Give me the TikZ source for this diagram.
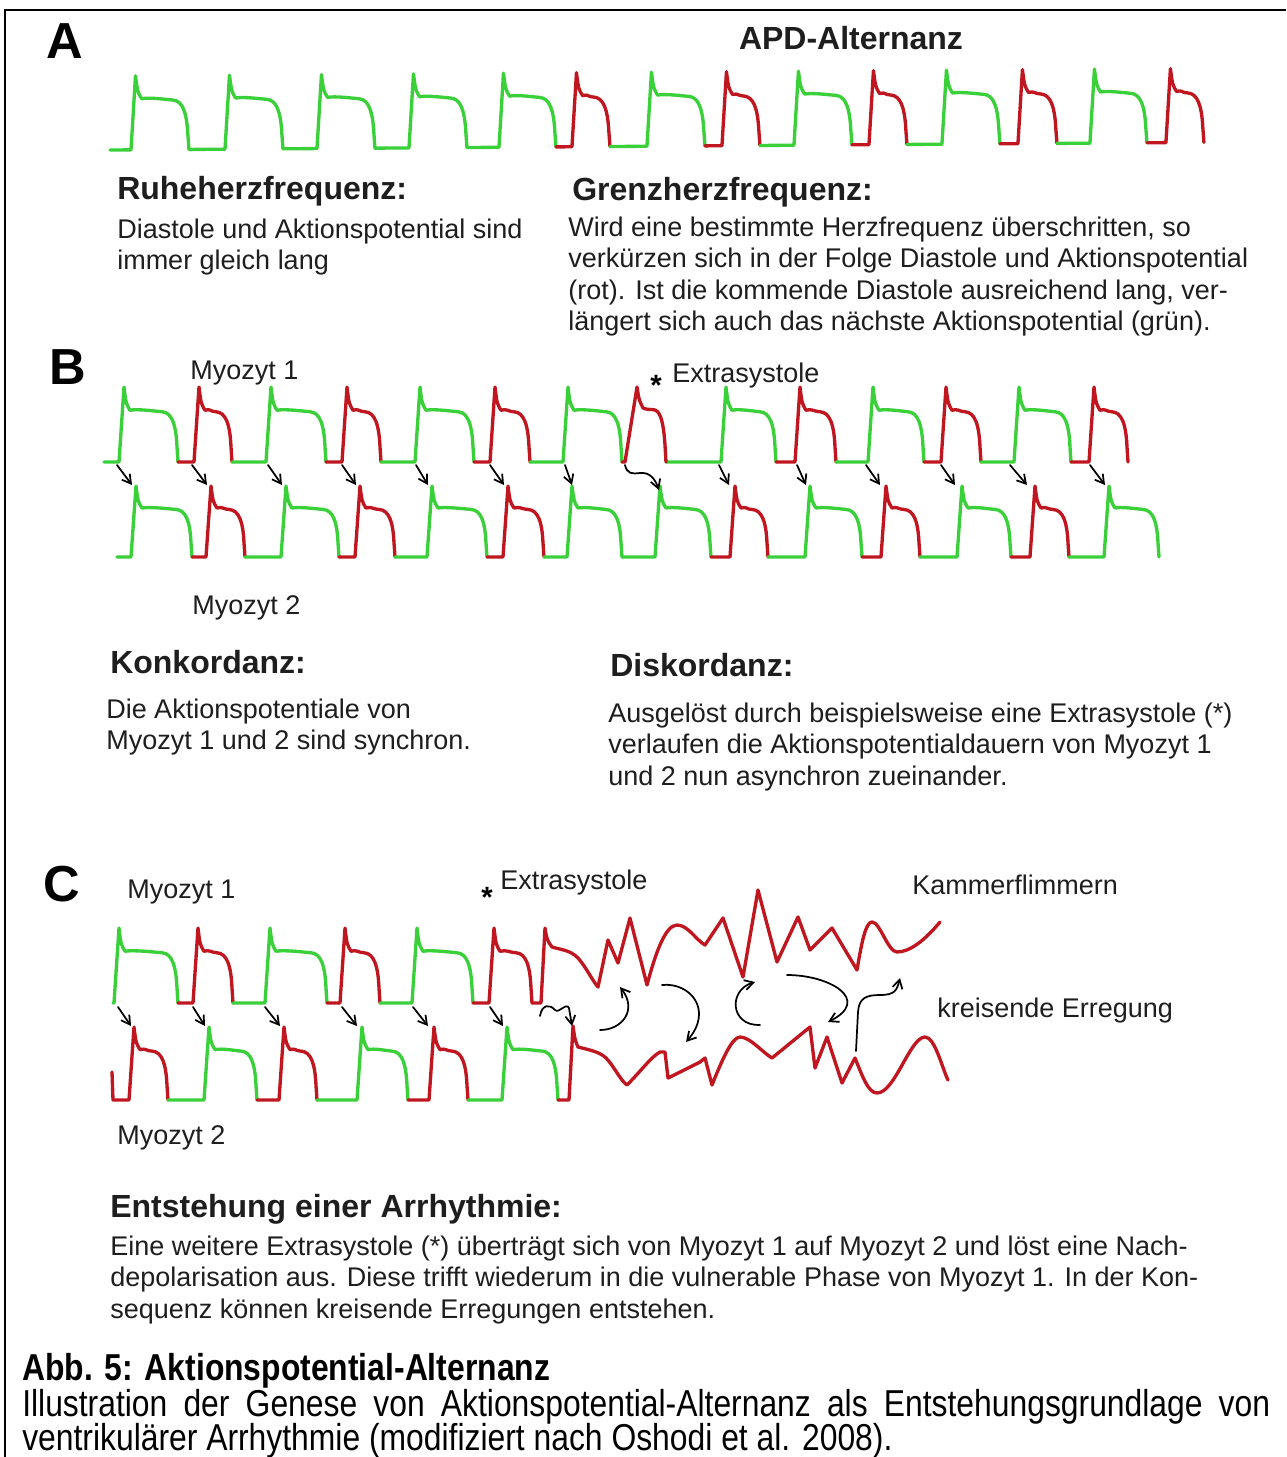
\documentclass[tikz,border=0pt]{standalone}
\usepackage{fontspec}
\setmainfont{Liberation Sans}
\newfontfamily\capfont[FakeStretch=0.85]{Liberation Sans}
\usetikzlibrary{arrows.meta}
\definecolor{apgreen}{RGB}{58,208,58}
\definecolor{apred}{RGB}{192,22,32}
\definecolor{txtgray}{RGB}{30,30,30}
% #1 style, #2 start of diastole, #3 upstroke, #4 end of AP, #5 baseline, #6 amplitude
\newcommand{\apseg}[6]{%
  \draw[#1] (#2,#5) -- (#3,#5) -- ({#3+5},{#5-#6})
   .. controls ({#3+7},{#5-0.78*#6}) .. ({#3+11},{#5-0.69*#6})
   .. controls ({#3+18},{#5-0.71*#6}) and ({#4-24},{#5-0.68*#6}) .. ({#4-16},{#5-0.67*#6})
   .. controls ({#4-6},{#5-0.66*#6}) and ({#4-2},{#5-0.5*#6}) .. ({#4-1},{#5-0.2*#6})
   -- (#4,#5);}
\begin{document}
\begin{tikzpicture}[x=0.75pt,y=-0.75pt,
  wave/.style={line width=2.5pt,line join=round,line cap=round},
  gr/.style={wave,draw=apgreen},
  rd/.style={wave,draw=apred},
  arr/.style={draw=black,line width=1.3pt,line cap=round,-{Straight Barb[length=6.5pt,width=7.5pt]}},
  hd/.style={anchor=base west,inner sep=0,text=txtgray,font=\fontsize{24}{28}\selectfont\bfseries},
  bd/.style={anchor=base west,inner sep=0,text=txtgray,font=\fontsize{20.25}{24}\selectfont},
  lab/.style={anchor=base,inner sep=0,font=\fontsize{38}{40}\selectfont\bfseries},
  starsym/.style={anchor=north,inner sep=0,font=\fontsize{22}{22}\selectfont\bfseries},
  captxt/.style={anchor=base west,inner sep=0,font=\capfont\fontsize{28.1}{30}\selectfont}]
\useasboundingbox (0,0) rectangle (1286,1457);
\fill[white] (0,0) rectangle (1286,1457);
% frame
\draw[line width=1.1pt] (5,1457) -- (5,10) -- (1286,10);

% ================= A =================
\node[lab] (labA) at (65,58) {A};
\node[anchor=base,inner sep=0,text=txtgray,font=\fontsize{24}{28}\selectfont\bfseries] (apd) at (851,49) {APD-Alternanz};
\begin{scope}[rotate around={0.4:(110,150)}]
\foreach \c/\s/\u/\e in {gr/110/131/189, gr/189/225/283, gr/283/317/375, gr/375/409/467,
  gr/467/499/556, rd/556/572/610, gr/610/647/705, rd/705/722/760, gr/760/794/852,
  rd/852/869/907, gr/907/942/1000, rd/1000/1018/1057, gr/1057/1090/1147, rd/1147/1166/1204}
  {\apseg{\c}{\s}{\u}{\e}{150}{74}}
\end{scope}
\node[hd] (ruhe) at (117,199) {Ruheherzfrequenz:};
\node[bd] (ruhe1) at (117,238) {Diastole und Aktionspotential sind};
\node[bd] (ruhe2) at (117,269) {immer gleich lang};
\node[hd] (grenz) at (572,200) {Grenzherzfrequenz:};
\node[bd] (grenz1) at (568,236) {Wird eine bestimmte Herzfrequenz überschritten, so};
\node[bd] (grenz2) at (568,267) {verkürzen sich in der Folge Diastole und Aktionspotential};
\node[bd] (grenz3) at (568,299) {(rot). Ist die kommende Diastole ausreichend lang, ver-};
\node[bd] (grenz4) at (568,330) {längert sich auch das nächste Aktionspotential (grün).};

% ================= B =================
\node[lab] (labB) at (68,384) {B};
\node[bd] (bm1) at (190,379) {Myozyt 1};
\node[starsym] (bstar) at (656,375) {*};
\node[bd] (bex) at (672,382) {Extrasystole};
% top row (Myozyt 1)
\foreach \c/\s/\u/\e in {gr/104/119/178, rd/178/194/232, gr/232/266/326, rd/326/342/381,
  gr/381/415/474, rd/474/490/530, gr/530/563/622, gr/666/721/776, rd/776/795/836,
  gr/836/868/924, rd/924/941/981, gr/981/1014/1071, rd/1071/1089/1128}
  {\apseg{\c}{\s}{\u}{\e}{462}{75}}
\draw[rd] (622,462) -- (625,462) -- (637,387) .. controls (639,400) .. (643,408)
  .. controls (647,410) and (651,409) .. (655,410) .. controls (662,412) and (664,430) .. (665,445) -- (666,462);
% bottom row (Myozyt 2)
\foreach \c/\s/\u/\e in {gr/117/131/192, rd/192/206/245, gr/245/281/339, rd/339/355/395,
  gr/395/427/487, rd/487/503/544, gr/544/567/622, gr/622/655/711, rd/711/730/768,
  gr/768/805/862, rd/862/881/920, gr/920/957/1011, rd/1011/1030/1069, gr/1069/1104/1159}
  {\apseg{\c}{\s}{\u}{\e}{557}{71}}
\foreach \i/\a/\b in {1/117/132, 2/192/207, 3/268/282, 4/342/356, 5/416/428, 6/490/504,
  7/565/572, 8/719/729, 9/797/806, 10/866/880, 11/941/955, 12/1010/1027, 13/1090/1105}
  {\coordinate (bs\i) at (\a,465); \coordinate (be\i) at (\b,485); \draw[arr] (bs\i) -- (be\i);}
\coordinate (bws) at (625,465);
\coordinate (bwe) at (659,490);
\draw[arr] (bws) .. controls (627,474) and (632,474) .. (640,473) .. controls (650,472) and (655,479) .. (bwe);
\node[bd] (bm2) at (192,614) {Myozyt 2};
\node[hd] (konk) at (110,673) {Konkordanz:};
\node[bd] (konk1) at (106,718) {Die Aktionspotentiale von};
\node[bd] (konk2) at (106,749) {Myozyt 1 und 2 sind synchron.};
\node[hd] (disk) at (610,676) {Diskordanz:};
\node[bd] (disk1) at (608,722) {Ausgelöst durch beispielsweise eine Extrasystole (*)};
\node[bd] (disk2) at (608,753) {verlaufen die Aktionspotentialdauern von Myozyt 1};
\node[bd] (disk3) at (608,785) {und 2 nun asynchron zueinander.};

% ================= C =================
\node[lab] (labC) at (62,901) {C};
\node[bd] (cm1) at (127,898) {Myozyt 1};
\node[starsym] (cstar) at (487,887) {*};
\node[bd] (cex) at (500,889) {Extrasystole};
\node[bd] (kammer) at (912,894) {Kammerflimmern};
\node[bd] (kreis) at (937,1017) {kreisende Erregung};
% top row
\foreach \c/\s/\u/\e in {gr/113/114/178, rd/178/193/233, gr/233/265/327, rd/327/340/380,
  gr/380/412/473, rd/473/489/532}
  {\apseg{\c}{\s}{\u}{\e}{1003}{75}}
\draw[rd] (532,1003) -- (541,1003) -- (545,928) .. controls (547,940) .. (552,947)
  .. controls (562,950) and (570,950) .. (578,958) .. controls (586,967) and (592,980) .. (598,987)
  -- (608,940) -- (618,963) -- (630,918) -- (647,985)
  .. controls (655,955) and (665,925) .. (677,925) .. controls (688,925) and (696,940) .. (705,945)
  -- (723,918) -- (743,977) -- (758,890) -- (777,962) -- (798,917) -- (810,950) -- (832,928) -- (857,970)
  .. controls (862,940) and (866,922) .. (872,922) .. controls (880,922) and (888,952) .. (897,952)
  .. controls (910,952) and (925,940) .. (940,922);
% bottom row
\draw[rd] (112,1072) -- (113,1100);
\foreach \c/\s/\u/\e in {rd/113/129/168, gr/168/204/257, rd/257/279/317, gr/317/357/408,
  rd/408/429/468, gr/468/502/558}
  {\apseg{\c}{\s}{\u}{\e}{1100}{73}}
\draw[rd] (558,1100) -- (569,1100) -- (573,1026) .. controls (575,1040) .. (578,1047)
  .. controls (590,1050) and (600,1052) .. (606,1058) .. controls (614,1066) and (620,1080) .. (627,1085)
  .. controls (640,1072) and (652,1056) .. (660,1052) -- (665,1052) -- (668,1078) -- (700,1062)
  -- (705,1058) -- (712,1085) .. controls (722,1060) and (732,1037) .. (740,1037)
  .. controls (750,1037) and (762,1052) .. (772,1058) -- (810,1027) -- (815,1068) -- (827,1037)
  -- (842,1083) -- (855,1058) .. controls (862,1075) and (868,1093) .. (877,1093)
  .. controls (895,1093) and (910,1037) .. (925,1037) .. controls (935,1037) and (942,1068) .. (948,1080);
\foreach \i/\a/\b in {1/118/131, 2/193/205, 3/265/280, 4/342/357, 5/413/428, 6/490/503}
  {\coordinate (cs\i) at (\a,1007); \coordinate (ce\i) at (\b,1026); \draw[arr] (cs\i) -- (ce\i);}
\coordinate (cws) at (540,1016);
\coordinate (cwe) at (572,1026);
\draw[arr] (cws) .. controls (542,1004) and (550,1004) .. (555,1010) .. controls (559,1014) and (566,1002) .. (569,1008) -- (cwe);
\coordinate (ca1) at (600,1030); \coordinate (ca2) at (620,987);
\draw[arr] (ca1) .. controls (622,1030) and (638,1010) .. (ca2);
\coordinate (cb1) at (662,985); \coordinate (cb2) at (686,1042);
\draw[arr] (cb1) .. controls (690,982) and (714,1010) .. (cb2);
\coordinate (cc1) at (760,1025); \coordinate (cc2) at (755,982);
\draw[arr] (cc1) .. controls (730,1026) and (728,990) .. (cc2);
\coordinate (cd1) at (787,975); \coordinate (cd2) at (828,1022);
\draw[arr] (cd1) .. controls (830,975) and (872,1000) .. (cd2);
\coordinate (ce1x) at (856,1051); \coordinate (ce2x) at (900,978);
\draw[arr] (ce1x) -- (858,1012) .. controls (859,998) and (866,995) .. (880,995) .. controls (895,995) and (897,990) .. (ce2x);
\node[bd] (cm2) at (117,1144) {Myozyt 2};
\node[hd] (entst) at (110,1217) {Entstehung einer Arrhythmie:};
\node[bd] (entst1) at (110,1255) {Eine weitere Extrasystole (*) überträgt sich von Myozyt 1 auf Myozyt 2 und löst eine Nach-};
\node[bd] (entst2) at (110,1286) {depolarisation aus. Diese trifft wiederum in die vulnerable Phase von Myozyt 1. In der Kon-};
\node[bd] (entst3) at (110,1318) {sequenz können kreisende Erregungen entstehen.};

% ================= caption =================
\node[captxt,font=\capfont\fontsize{28.1}{30}\selectfont\bfseries] (abb) at (22,1380) {Abb. 5: Aktionspotential-Alternanz};
\node[captxt] (capl1) at (22,1416) {\makebox[936pt][s]{Illustration der Genese von Aktionspotential-Alternanz als Entstehungsgrundlage von}};
\node[captxt] (capl2) at (22,1450) {ventrikulärer Arrhythmie (modifiziert nach Oshodi et al. 2008).};
\end{tikzpicture}
\end{document}
